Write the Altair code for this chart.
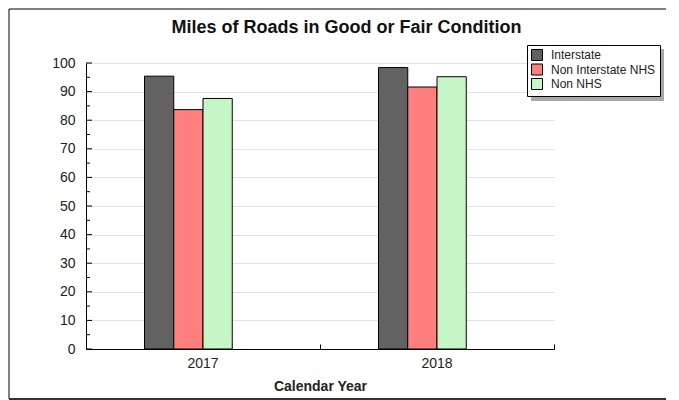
import altair as alt
import pandas as pd

years = ["2017", "2018"]
series = ["Interstate", "Non Interstate NHS", "Non NHS"]
interstate = [95.4, 98.4]
non_interstate_nhs = [83.7, 91.6]
non_nhs = [87.6, 95.2]
colors = ["#626262", "#ff7f7f", "#c6f5c6"]
major_ticks = [0, 10, 20, 30, 40, 50, 60, 70, 80, 90, 100]
minor_ticks = [5, 15, 25, 35, 45, 55, 65, 75, 85, 95]
offset_slots = ["_a", "_b"] + series + ["_c", "_d", "_e"]

rows = []
for i, y in enumerate(years):
    for s, vals in zip(series, [interstate, non_interstate_nhs, non_nhs]):
        rows.append({"year": y, "series": s, "value": vals[i]})
df = pd.DataFrame(rows)

FONT = "Liberation Sans"
W, H = 468, 286
LX, LY = 441, -18

x_scale = alt.Scale(domain=years, paddingInner=0, paddingOuter=0)
y_scale = alt.Scale(domain=[0, 100], nice=False)

bars = alt.Chart(df).mark_bar(stroke="black", strokeWidth=1, opacity=1).encode(
    x=alt.X("year:N", scale=x_scale, title="Calendar Year",
            axis=alt.Axis(labelAngle=0, ticks=False, labelPadding=7, domainColor="black",
                          labelFontSize=14, labelColor="#222", titleFontSize=14,
                          titleFontWeight="bold", titleColor="#222", titlePadding=9,
                          labelFont=FONT, titleFont=FONT, grid=False)),
    xOffset=alt.XOffset("series:N",
                        scale=alt.Scale(domain=offset_slots, paddingInner=0, paddingOuter=0)),
    y=alt.Y("value:Q", scale=y_scale, title=None,
            axis=alt.Axis(values=major_ticks, ticks=False, labelPadding=11, domainColor="black",
                          labelFontSize=14, labelColor="#222", labelFont=FONT, labelOverlap=False,
                          grid=True, gridColor="#e2e2e2")),
    color=alt.Color("series:N", scale=alt.Scale(domain=series, range=colors),
                    legend=alt.Legend(title=None, orient="none", legendX=LX, legendY=LY,
                                      symbolType="square", symbolSize=121, symbolStrokeColor="black",
                                      symbolStrokeWidth=1, symbolOpacity=1, labelFontSize=12,
                                      labelFont=FONT, labelColor="#222", strokeColor="black",
                                      fillColor="white", padding=4, rowPadding=-1.5, labelOffset=8,
                                      labelLimit=300)),
)

xticks = alt.Chart(df).mark_point(opacity=0).encode(
    x=alt.X("year:N", scale=x_scale,
            axis=alt.Axis(orient="top", offset=-H, labels=False, domain=False, grid=False,
                          ticks=True, tickBand="extent", tickSize=5, tickColor="black", title=None)),
    y=alt.Y("value:Q", scale=y_scale, axis=None),
)

maj = alt.Chart(pd.DataFrame({"v": major_ticks})).mark_rule(color="black", strokeWidth=1).encode(
    y=alt.Y("v:Q", scale=y_scale, axis=None), x=alt.value(0), x2=alt.value(6))
mino = alt.Chart(pd.DataFrame({"v": minor_ticks})).mark_rule(color="black", strokeWidth=1).encode(
    y=alt.Y("v:Q", scale=y_scale, axis=None), x=alt.value(0), x2=alt.value(4))

one = alt.Data(values=[{}])
frame_top = alt.Chart(one).mark_rule(color="black", strokeWidth=1).encode(
    x=alt.value(-77), x2=alt.value(580), y=alt.value(-54))
frame_left = alt.Chart(one).mark_rule(color="black", strokeWidth=1).encode(
    x=alt.value(-77), y=alt.value(-54), y2=alt.value(336))
frame_bottom = alt.Chart(one).mark_rule(color="#333", strokeWidth=2).encode(
    x=alt.value(-77), x2=alt.value(580), y=alt.value(336))
legend_shadow = alt.Chart(one).mark_rect(color="#a8a8a8").encode(
    x=alt.value(LX + 4), x2=alt.value(LX + 137), y=alt.value(LY + 4), y2=alt.value(LY + 56))

chart = alt.layer(bars, xticks, maj, mino, frame_top, frame_left, frame_bottom,
                  legend_shadow).resolve_axis(
    x="independent", y="independent"
).properties(
    width=W, height=H, padding=0,
    title=alt.Title("Miles of Roads in Good or Fair Condition", font=FONT, fontSize=18,
                    fontWeight="bold", color="#111", anchor="middle", frame="bounds", offset=0,
                    dy=28, dx=9),
).configure_view(stroke=None)

chart.save("out.html", embed_options={"renderer": "svg", "actions": False})
